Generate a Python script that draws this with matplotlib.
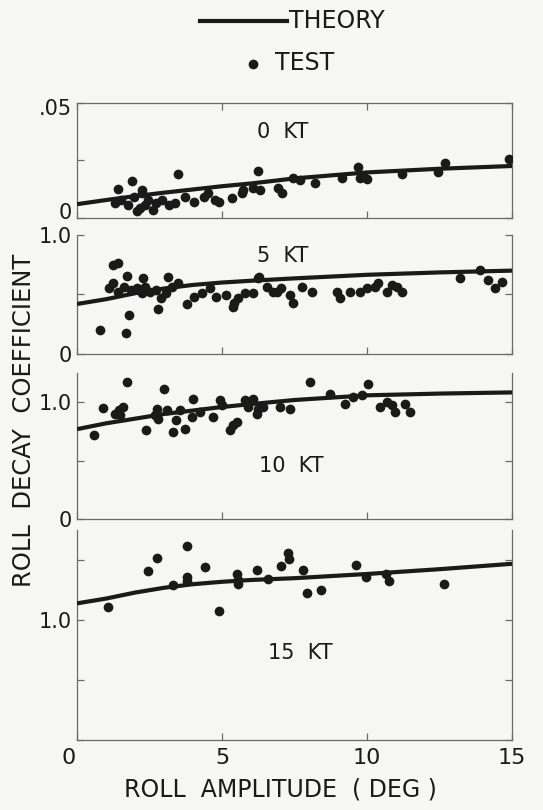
import matplotlib
matplotlib.use("Agg")
import matplotlib.pyplot as plt
from matplotlib.lines import Line2D
from matplotlib.transforms import ScaledTranslation

plt.rcParams['font.family'] = ['DejaVu Sans']

# theory curves, read at these roll amplitudes
theory_x = [0, 1, 2, 3, 4, 5, 6, 7.5, 10, 12.5, 15]
theory_0kt = [0.006, 0.0078, 0.0095, 0.011, 0.0124, 0.0138, 0.015, 0.0172, 0.0198, 0.0214, 0.0226]
theory_5kt = [0.42, 0.46, 0.51, 0.55, 0.58, 0.60, 0.615, 0.635, 0.665, 0.685, 0.70]
theory_10kt = [0.77, 0.82, 0.86, 0.90, 0.93, 0.96, 0.985, 1.02, 1.06, 1.075, 1.085]
theory_15kt = [1.14, 1.18, 1.23, 1.27, 1.30, 1.32, 1.335, 1.35, 1.385, 1.425, 1.47]

# test points
test_0kt_x = [1.42, 1.91, 3.47, 6.23, 2.23, 1.31, 1.74, 2.18, 2.34, 2.62, 2.73, 3.16, 3.38,
              3.71, 4.03, 4.36, 4.52, 4.74, 4.91, 5.34, 5.67, 5.72, 6.05, 6.32, 6.92, 1.96,
              2.23, 1.53, 2.45, 2.94, 2.07, 7.06, 7.45, 7.69, 8.2, 9.13, 9.7, 9.76, 9.99,
              11.2, 12.45, 12.7, 14.9, 9.87]
test_0kt_y = [0.0125, 0.0162, 0.019, 0.0204, 0.0122, 0.0064, 0.0057, 0.0042, 0.0057, 0.0035,
              0.0064, 0.0057, 0.0064, 0.0093, 0.0071, 0.0093, 0.0107, 0.0078, 0.0071, 0.0086,
              0.0107, 0.0122, 0.0129, 0.0122, 0.0129, 0.0093, 0.0107, 0.0078, 0.0078, 0.0078,
              0.003, 0.011, 0.0174, 0.0165, 0.0152, 0.0174, 0.0222, 0.0174, 0.0168, 0.0191,
              0.020, 0.0239, 0.0256, 0.0181]

test_5kt_x = [1.25, 1.42, 0.79, 1.69, 1.79, 1.71, 2.26, 3.15, 3.78, 2.8, 6.25,
              1.09, 1.25, 1.42, 1.63, 1.85, 2.07, 2.24, 2.34, 2.51, 2.72, 2.89, 3.05, 3.27,
              3.49, 4.03, 4.31, 4.58, 4.80, 5.12, 5.40, 5.56, 5.78, 6.05, 6.27, 6.54, 6.76,
              7.03, 6.89, 7.46, 7.34, 7.75, 8.09, 8.95, 9.07, 9.41, 9.76, 9.99, 10.28, 10.39,
              10.68, 10.85, 11.02, 11.2, 13.21, 13.9, 14.18, 14.41, 14.64, 5.38]
test_5kt_y = [0.748, 0.762, 0.20, 0.174, 0.328, 0.655, 0.636, 0.65, 0.42, 0.375, 0.636,
              0.552, 0.594, 0.524, 0.566, 0.538, 0.552, 0.51, 0.566, 0.524, 0.538, 0.468, 0.51,
              0.566, 0.594, 0.482, 0.51, 0.552, 0.482, 0.496, 0.426, 0.468, 0.51, 0.51, 0.65,
              0.566, 0.524, 0.552, 0.524, 0.426, 0.496, 0.566, 0.524, 0.524, 0.468, 0.524,
              0.524, 0.552, 0.566, 0.594, 0.524, 0.58, 0.566, 0.524, 0.636, 0.706, 0.622,
              0.552, 0.608, 0.398]

test_10kt_x = [0.59, 0.89, 1.71, 1.31, 1.43, 1.6, 1.48, 2.37, 2.75, 2.69, 2.8, 2.98, 3.09,
               3.32, 3.41, 3.72, 3.55, 3.95, 4.01, 4.24, 4.70, 4.93, 4.99, 5.28, 5.39, 5.51,
               5.79, 5.91, 6.08, 6.2, 6.25, 6.42, 7.0, 7.34, 8.03, 8.72, 9.24, 9.53, 9.82,
               10.04, 10.45, 10.68, 10.85, 10.97, 11.31, 11.48]
test_10kt_y = [0.718, 0.951, 1.173, 0.903, 0.932, 0.96, 0.889, 0.767, 0.946, 0.889, 0.86,
               1.117, 0.932, 0.746, 0.852, 0.775, 0.932, 0.874, 1.03, 0.917, 0.874, 1.017,
               0.974, 0.76, 0.803, 0.832, 1.017, 0.96, 1.03, 0.903, 0.946, 0.96, 0.96, 0.946,
               1.173, 1.074, 0.989, 1.045, 1.06, 1.16, 0.96, 1.003, 0.974, 0.917, 0.989, 0.917]

test_15kt_x = [1.08, 2.46, 2.75, 3.30, 3.80, 3.78, 3.78, 4.41, 4.91, 5.53, 5.56, 5.56, 6.22,
               6.58, 7.02, 7.29, 7.31, 7.78, 7.92, 8.40, 9.62, 9.97, 10.66, 10.74, 12.67]
test_15kt_y = [1.106, 1.408, 1.519, 1.292, 1.617, 1.361, 1.33, 1.444, 1.078, 1.383, 1.333,
               1.30, 1.417, 1.339, 1.45, 1.556, 1.506, 1.422, 1.228, 1.25, 1.464, 1.361,
               1.389, 1.325, 1.30]

panels = [
    ("0  KT", theory_0kt, test_0kt_x, test_0kt_y, 0.05, [0, 0.025, 0.05], ['0', '', '.05'], (7.1, 0.0374)),
    ("5  KT", theory_5kt, test_5kt_x, test_5kt_y, 1.0, [0, 0.5, 1.0], ['0', '', '1.0'], (7.1, 0.82)),
    ("10  KT", theory_10kt, test_10kt_x, test_10kt_y, 1.25, [0, 0.5, 1.0], ['0', '', '1.0'], (7.4, 0.45)),
    ("15  KT", theory_15kt, test_15kt_x, test_15kt_y, 1.75, [0, 0.5, 1.0, 1.5], ['', '', '1.0', ''], (7.7, 0.725)),
]

# axes boxes in figure fractions (bottom, height)
boxes = [(0.7309, 0.142), (0.563, 0.147), (0.3593, 0.180), (0.0864, 0.259)]

ink = '#1a1a1a'
spine_col = '#6a6a6a'

fig = plt.figure(figsize=(5.43, 8.10), dpi=100, facecolor='#f6f6f4')


def nudge(label, dx_pt, dy_pt):
    label.set_transform(label.get_transform() + ScaledTranslation(dx_pt / 72, dy_pt / 72, fig.dpi_scale_trans))


for i, (name, th, tx, ty, ytop, yt, ytl, lab) in enumerate(panels):
    b, h = boxes[i]
    ax = fig.add_axes([0.142, b, 0.801, h])
    ax.set_facecolor('none')
    ax.plot(theory_x, th, color=ink, lw=3.0, solid_capstyle='butt', zorder=3)
    ax.plot(tx, ty, 'o', color=ink, ms=7, mec='none', zorder=4)
    ax.set_xlim(0, 15)
    ax.set_ylim(0, ytop)
    ax.set_yticks(yt)
    ax.set_yticklabels(ytl)
    ax.set_xticks([0, 5, 10, 15])
    if i == 3:
        ax.set_xticklabels(['0', '5', '10', '15'])
    else:
        ax.set_xticklabels([])
    ax.tick_params(direction='in', length=5, width=0.9, color=spine_col,
                   labelsize=15, labelcolor=ink, right=True, top=(i == 0), pad=4)
    ax.tick_params(axis='x', labelsize=16, pad=6)
    for s in ['left', 'right', 'bottom', 'top']:
        ax.spines[s].set_color(spine_col)
        ax.spines[s].set_linewidth(0.9)
    if i > 0:
        ax.spines['top'].set_visible(False)
    ax.text(lab[0], lab[1], name, fontsize=15, color=ink, ha='center', va='center')
    if i == 0:
        ylabs = ax.get_yticklabels()
        nudge(ylabs[0], 0, 5)
        nudge(ylabs[2], 0, -3)
    if i == 3:
        nudge(ax.get_xticklabels()[0], -6, 0)

# legend drawn by hand at the top
fig.add_artist(Line2D([0.368, 0.529], [0.974, 0.974], color=ink, lw=3.0, transform=fig.transFigure))
fig.text(0.532, 0.974, 'THEORY', fontsize=17, color=ink, ha='left', va='center')
fig.add_artist(Line2D([0.466], [0.921], marker='o', color=ink, ms=7, mec='none', transform=fig.transFigure))
fig.text(0.506, 0.922, 'TEST', fontsize=17, color=ink, ha='left', va='center')

fig.text(0.044, 1 - 420 / 810, 'ROLL  DECAY  COEFFICIENT', rotation=90, fontsize=17.5,
         color=ink, ha='center', va='center')
fig.text(280 / 543, 1 - 790 / 810, 'ROLL  AMPLITUDE  ( DEG )', fontsize=17,
         color=ink, ha='center', va='center')

fig.savefig('out.png', dpi=100, facecolor=fig.get_facecolor())
